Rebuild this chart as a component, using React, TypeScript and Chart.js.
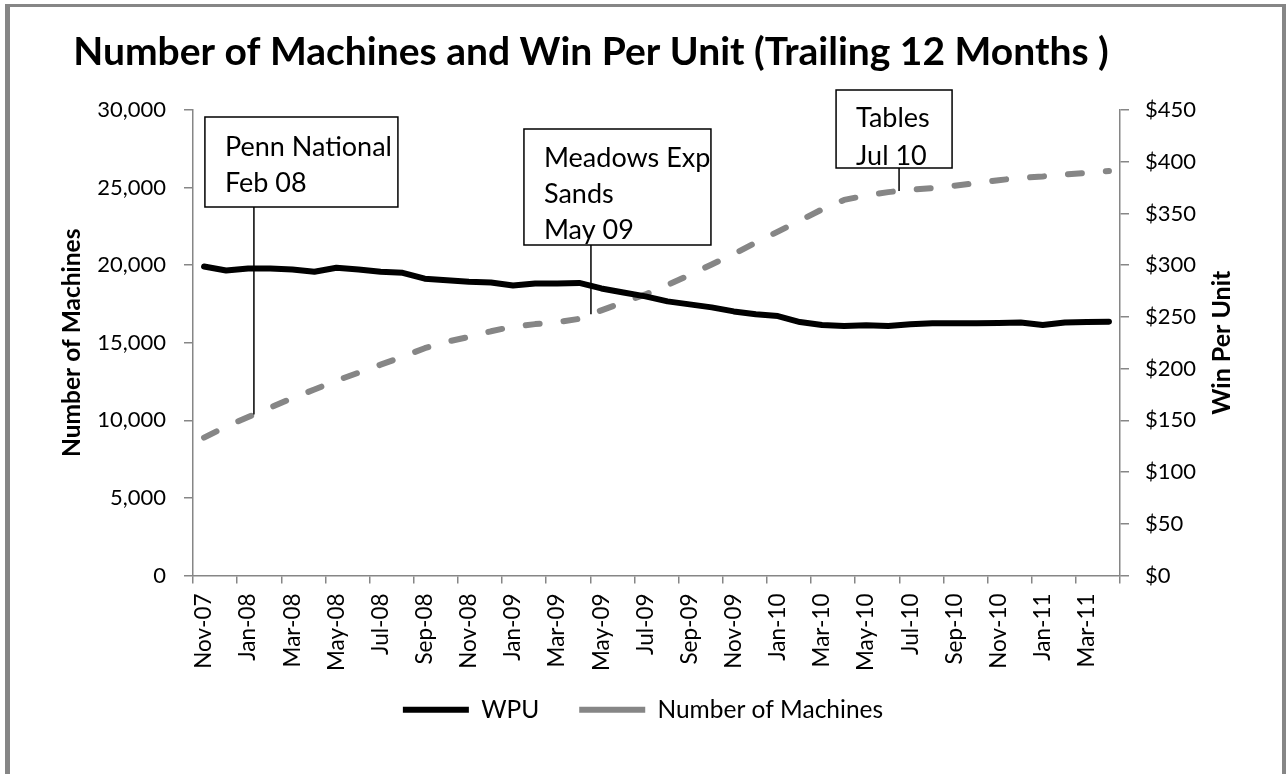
import React, { useEffect, useRef } from "react";
import { Chart, registerables } from "chart.js";

Chart.register(...registerables);

const TITLE = "Number of Machines and Win Per Unit (Trailing 12 Months )";

const months = [
  "Nov-07", "Dec-07",
  "Jan-08", "Feb-08", "Mar-08", "Apr-08", "May-08", "Jun-08", "Jul-08", "Aug-08", "Sep-08", "Oct-08", "Nov-08", "Dec-08",
  "Jan-09", "Feb-09", "Mar-09", "Apr-09", "May-09", "Jun-09", "Jul-09", "Aug-09", "Sep-09", "Oct-09", "Nov-09", "Dec-09",
  "Jan-10", "Feb-10", "Mar-10", "Apr-10", "May-10", "Jun-10", "Jul-10", "Aug-10", "Sep-10", "Oct-10", "Nov-10", "Dec-10",
  "Jan-11", "Feb-11", "Mar-11", "Apr-11",
];

// Win per unit ($, right axis)
const wpu = [
  298.7, 294.9, 296.7, 296.8, 295.8, 293.6, 297.5, 295.8, 293.6, 292.6, 286.9, 285.5,
  284.0, 283.3, 280.4, 282.3, 282.3, 282.8, 277.5, 273.6, 269.8, 265.0, 262.1, 259.2,
  255.3, 252.5, 250.8, 245.0, 242.2, 241.2, 241.9, 241.2, 242.8, 243.8, 243.8, 243.8,
  244.1, 244.5, 242.2, 244.5, 245.0, 245.4,
];

// Number of machines (left axis)
const machines = [
  8884, 9604, 10214, 10818, 11435, 11987, 12559, 13073, 13587, 14101, 14647, 15064,
  15373, 15739, 16041, 16201, 16317, 16542, 17088, 17602, 18116, 18726, 19368, 20043,
  20717, 21456, 22163, 22869, 23595, 24206, 24488, 24707, 24861, 24970, 25118, 25291,
  25478, 25625, 25715, 25837, 25953, 26069,
];

const leftMax = 30000;
const leftStep = 5000;
const rightMax = 450;
const rightStep = 50;

// Callout annotations: text lines and the (fractional) category they point at
const calloutTexts = [["Penn National", "Feb 08"], ["Meadows Exp", "Sands", "May 09"], ["Tables", "Jul 10"]];
const calloutIndex = [2.26, 17.53, 31.49];
// box geometry relative to anchor x / chart top: [dx, dyTop, width, height, firstLineOffset, lineGap]
const calloutBoxes = [
  [-49, 7, 193, 90, 30, 36],
  [-67, 19, 187, 116, 29, 36],
  [-63, -20, 116, 78, 28, 38],
];

const GRAY = "#868686";
const FONT = "Lato";

function interp(arr: number[], f: number) {
  const i = Math.floor(f);
  const t = f - i;
  const a = arr[i];
  const b = arr[Math.min(i + 1, arr.length - 1)];
  return a + (b - a) * t;
}

const customPlugin = {
  id: "customDraw",
  afterLayout(chart: any) {
    // let the rotated x labels use the space above the legend without being clipped
    const xs = chart.scales.x;
    xs.bottom = xs.top + 100;
  },
  afterDraw(chart: any) {
    const ctx = chart.ctx;
    const xs = chart.scales.x;
    const ys = chart.scales.y;
    const area = chart.chartArea;
    ctx.save();

    // Title
    ctx.fillStyle = "#000";
    ctx.font = `bold 39px ${FONT}`;
    ctx.textAlign = "center";
    ctx.textBaseline = "middle";
    ctx.fillText(TITLE, area.left + 398, 52);

    // Right axis title (reads bottom to top)
    ctx.save();
    ctx.font = `bold 25px ${FONT}`;
    ctx.translate(area.right + 102, (area.top + area.bottom) / 2);
    ctx.rotate(-Math.PI / 2);
    ctx.fillText("Win Per Unit", 0, 0);
    ctx.restore();

    // Callouts
    calloutTexts.forEach((lines, k) => {
      const f = calloutIndex[k];
      const ax = xs.getPixelForValue(f);
      const ay = ys.getPixelForValue(interp(machines, f));
      const [dx, dy, w, h, off, gap] = calloutBoxes[k];
      const bx = ax + dx;
      const by = area.top + dy;
      ctx.strokeStyle = "#000";
      ctx.lineWidth = 1.5;
      ctx.beginPath();
      ctx.moveTo(ax, by + h);
      ctx.lineTo(ax, ay);
      ctx.stroke();
      ctx.fillStyle = "#fff";
      ctx.fillRect(bx, by, w, h);
      ctx.strokeRect(bx, by, w, h);
      ctx.fillStyle = "#000";
      ctx.font = `27px ${FONT}`;
      ctx.textAlign = "left";
      ctx.textBaseline = "middle";
      lines.forEach((t, j) => ctx.fillText(t, bx + 20, by + off + j * gap));
    });
    ctx.restore();
  },
};

export default function App() {
  const ref = useRef<HTMLCanvasElement | null>(null);

  useEffect(() => {
    if (!ref.current) return;
    Chart.defaults.font.family = FONT;
    const chart = new Chart(ref.current, {
      type: "line",
      data: {
        labels: months,
        datasets: [
          {
            label: "WPU",
            data: wpu,
            yAxisID: "y1",
            borderColor: "#000",
            backgroundColor: "#000",
            borderWidth: 6,
            borderCapStyle: "round",
            borderJoinStyle: "round",
            pointRadius: 0,
            tension: 0,
          },
          {
            label: "Number of Machines",
            data: machines,
            yAxisID: "y",
            borderColor: GRAY,
            backgroundColor: GRAY,
            borderWidth: 6,
            borderDash: [14, 24],
            borderCapStyle: "round",
            borderJoinStyle: "round",
            pointRadius: 0,
            tension: 0,
          },
        ],
      },
      options: {
        responsive: false,
        animation: false,
        layout: { padding: { top: 110, bottom: 42, left: 0, right: 0 } },
        plugins: {
          title: { display: false },
          tooltip: { enabled: false },
          legend: {
            position: "bottom",
            labels: {
              usePointStyle: true,
              pointStyle: "line",
              pointStyleWidth: 66,
              padding: 40,
              color: "#000",
              font: { size: 24.5 },
            },
          },
        },
        scales: {
          x: {
            type: "category",
            offset: true,
            grid: {
              offset: true,
              drawOnChartArea: false,
              drawTicks: true,
              tickLength: 8,
              lineWidth: 1.5,
              color: (c: any) => (c.index === undefined || c.index % 2 === 0 ? GRAY : "rgba(0,0,0,0)"),
            },
            border: { color: GRAY, width: 1.5 },
            ticks: {
              autoSkip: false,
              maxRotation: 90,
              minRotation: 90,
              padding: 10,
              color: "#000",
              font: { size: 22.5 },
              callback: function (this: any, v: any, i: number) {
                return i % 2 === 0 ? this.getLabelForValue(v) : "";
              },
            },
            afterFit: (s: any) => {
              s.height = 82;
            },
          },
          y: {
            position: "left",
            min: 0,
            max: leftMax,
            grid: { drawOnChartArea: false, tickLength: 9, color: GRAY, lineWidth: 1.5 },
            border: { color: GRAY, width: 1.5 },
            ticks: {
              stepSize: leftStep,
              padding: 18,
              color: "#000",
              font: { size: 22 },
              callback: (v: any) => Number(v).toLocaleString("en-US"),
            },
            title: {
              display: true,
              text: "Number of Machines",
              color: "#000",
              font: { size: 24.5, weight: "bold" },
              padding: { top: 57, bottom: 0 },
            },
            afterFit: (s: any) => {
              s.width = 193;
            },
          },
          y1: {
            position: "right",
            min: 0,
            max: rightMax,
            grid: { drawOnChartArea: false, tickLength: 9, color: GRAY, lineWidth: 1.5 },
            border: { color: GRAY, width: 1.5 },
            ticks: {
              stepSize: rightStep,
              padding: 16,
              color: "#000",
              font: { size: 22 },
              callback: (v: any) => "$" + v,
            },
            afterFit: (s: any) => {
              s.width = 166;
            },
          },
        },
      },
      plugins: [customPlugin],
    });
    return () => chart.destroy();
  }, []);

  return (
    <div
      style={{
        position: "fixed",
        left: 0,
        top: 0,
        width: 1286,
        height: 774,
        background: "#fff",
        overflow: "hidden",
      }}
    >
      <canvas ref={ref} width={1286} height={774} style={{ display: "block" }} />
      <div
        style={{
          position: "absolute",
          left: 5,
          top: 4,
          width: 1286 - 5 - 9,
          height: 800,
          borderLeft: `5px solid ${GRAY}`,
          borderTop: `3px solid ${GRAY}`,
          borderRight: `4px solid ${GRAY}`,
          pointerEvents: "none",
        }}
      />
    </div>
  );
}
